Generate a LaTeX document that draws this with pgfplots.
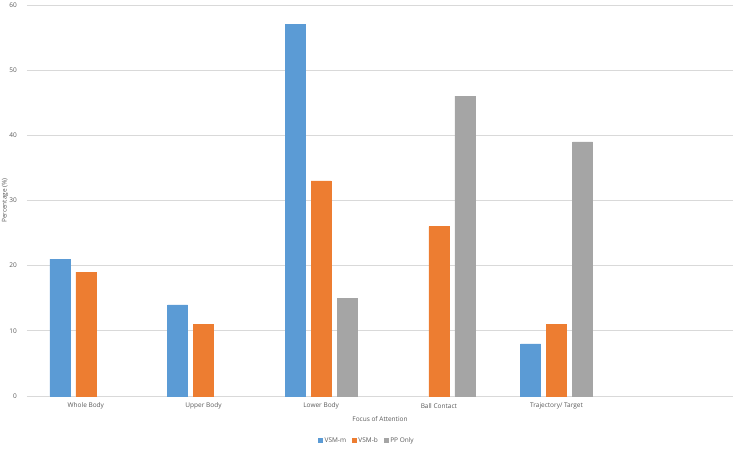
\documentclass[border=0pt]{standalone}
\usepackage{pgfplots}
\pgfplotsset{compat=1.18}
\usepackage{fontspec}
\setmainfont{Open Sans}
\definecolor{cblue}{HTML}{5B9BD5}
\definecolor{corange}{HTML}{ED7D31}
\definecolor{cgray}{HTML}{A5A5A5}
\definecolor{ctext}{HTML}{595959}
\definecolor{cgrid}{HTML}{D9D9D9}
\begin{document}
\begin{tikzpicture}
\path[use as bounding box] (0,0) rectangle (737pt,448pt);
\begin{axis}[
  at={(27pt,52pt)}, anchor=south west,
  scale only axis, width=706pt, height=391pt,
  ybar=6pt, bar width=20pt,
  xmin=-0.5, xmax=5.5, ymin=0, ymax=60,
  xtick={0,1,2,3,4},
  xticklabels={Whole Body, Upper Body, Lower Body, Ball Contact, Trajectory/ Target},
  ytick={0,10,20,30,40,50,60},
  major tick length=0pt,
  axis line style={draw=none},
  ymajorgrids, grid style={cgrid, line width=0.9pt},
  extra y ticks={0}, extra y tick style={grid style={cgrid, line width=1pt}},
  extra y tick labels={},
  font=\fontsize{6.5}{8}\selectfont,
  tick label style={text=ctext},
  /pgf/number format/assume math mode=true,
  xticklabel style={anchor=center, yshift=-9.7pt},
  yticklabel style={anchor=east, inner sep=0pt, xshift=-10pt},
  xlabel={Focus of Attention},
  ylabel={Percentage (\%)},
  label style={text=ctext},
  xlabel style={at={(axis description cs:0.5,-0.0588)}, anchor=center},
  ylabel style={at={(axis description cs:-0.0312,0.5)}, anchor=center},
  legend columns=3,
  legend style={at={(axis description cs:0.4816,-0.1143)}, anchor=center, draw=none, fill=none,
    font=\fontsize{6.5}{8}\selectfont, text=ctext,
    /tikz/every even column/.append style={column sep=4pt},
    inner sep=0pt},
  legend image code/.code={\fill[#1] (0pt,-2pt) rectangle (4pt,2pt);},
]
\addplot[fill=cblue, draw=cblue] coordinates {(0,21) (1,14) (2,57) (4,8)};
\addplot[fill=corange, draw=corange] coordinates {(0,19) (1,11) (2,33) (3,26) (4,11)};
\addplot[fill=cgray, draw=cgray] coordinates {(2,15) (3,46) (4,39)};
\legend{VSM-m, VSM-b, PP Only}
\end{axis}
\end{tikzpicture}
\end{document}
